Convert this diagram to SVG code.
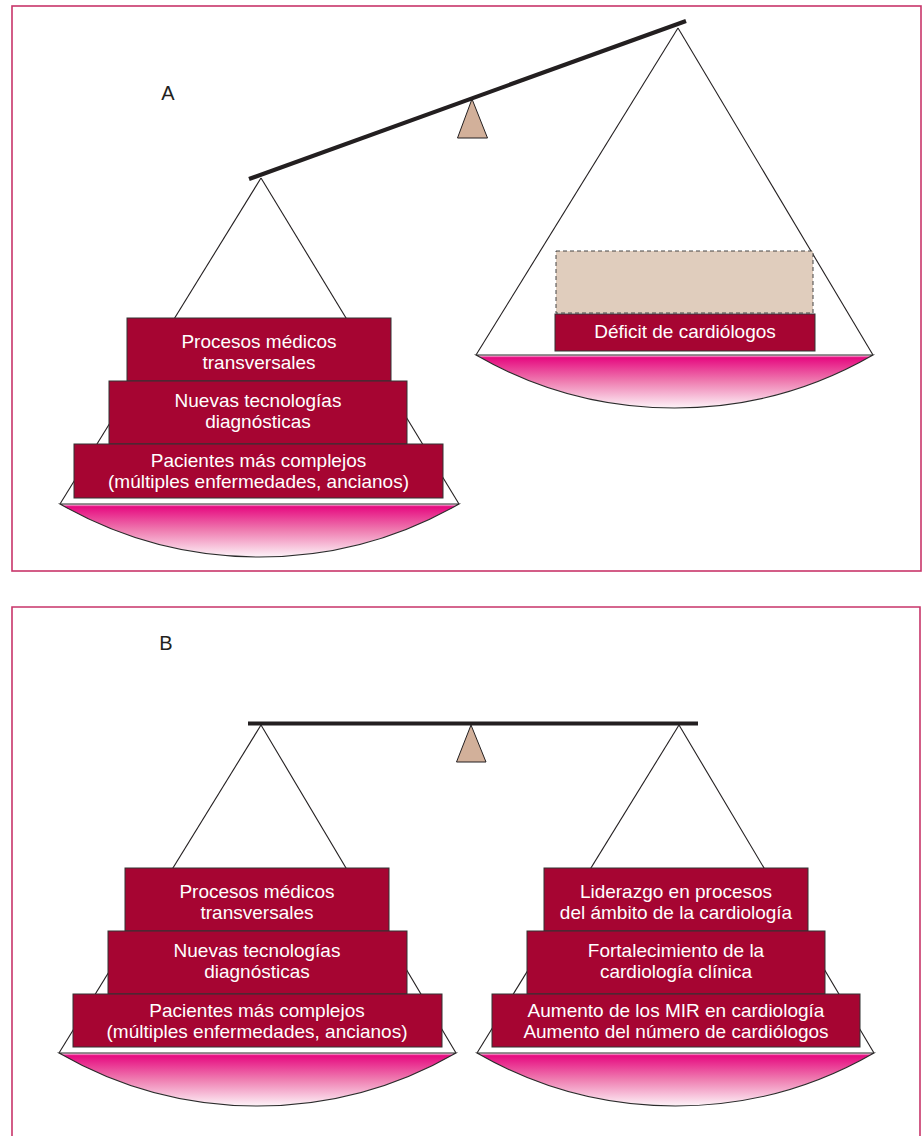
<svg xmlns="http://www.w3.org/2000/svg" width="923" height="1136" viewBox="0 0 923 1136">
<defs>
<linearGradient id="pan" x1="0" y1="0" x2="0" y2="1">
<stop offset="0" stop-color="#ffffff"/>
<stop offset="0.05" stop-color="#e60a80"/>
<stop offset="0.5" stop-color="#ef7db1"/>
<stop offset="1" stop-color="#fdf3f8"/>
</linearGradient>
<style>
.frame{fill:none;stroke:#c8356a;stroke-width:1.6}
.beam{stroke:#231f20;stroke-width:4.2;stroke-linecap:butt}
.hang{stroke:#231f20;stroke-width:1.1;fill:none}
.pan{fill:url(#pan);stroke:#2b2b2b;stroke-width:1.1}
.piv{fill:#d2b09a;stroke:#231f20;stroke-width:1}
.box{fill:#a60532;stroke:#333;stroke-width:1}
.ghost{fill:#e0cdbd;stroke:#444;stroke-width:1;stroke-dasharray:4 3}
.t{font-family:"Liberation Sans",Arial,sans-serif;font-size:19px;fill:#fff;text-anchor:middle}
.lbl{font-family:"Liberation Sans",Arial,sans-serif;font-size:20px;fill:#231f20;text-anchor:middle}
</style>
</defs>
<rect width="923" height="1136" fill="#fff"/>

<g id="panelA">
<rect class="frame" x="12" y="6" width="909" height="565"/>
<text class="lbl" x="168" y="100">A</text>
</g>
<g id="panelB">
<path class="frame" d="M12,1140 L12,607 L920,607 L920,1140"/>
<text class="lbl" x="166" y="650">B</text>
</g>

<g id="connectors">
<line class="hang" x1="261" y1="178" x2="60" y2="504"/>
<line class="hang" x1="261" y1="178" x2="459" y2="504"/>
<line class="hang" x1="678" y1="28" x2="476" y2="355"/>
<line class="hang" x1="678" y1="28" x2="873" y2="355"/>
<line class="hang" x1="261" y1="725" x2="59" y2="1053"/>
<line class="hang" x1="261" y1="725" x2="456" y2="1053"/>
<line class="hang" x1="679" y1="725" x2="477" y2="1053"/>
<line class="hang" x1="679" y1="725" x2="874" y2="1053"/>
</g>

<g id="scaleA">
<polygon class="piv" points="472,99 457.5,138 487.5,138"/>
<line class="beam" x1="249" y1="179" x2="686" y2="21"/>
<path class="pan" d="M60,504 L459,504 A402,402 0 0 1 60,504 Z"/>
<path class="pan" d="M476,355 L873,355 A398,398 0 0 1 476,355 Z"/>
</g>

<g id="scaleB">
<polygon class="piv" points="471,725 456.5,762 486,762"/>
<line class="beam" x1="248" y1="723.5" x2="698" y2="723.5"/>
<path class="pan" d="M59,1053 L456,1053 A398,398 0 0 1 59,1053 Z"/>
<path class="pan" d="M477,1053 L874,1053 A398,398 0 0 1 477,1053 Z"/>
</g>

<g id="A-procesos">
<rect class="box" x="127" y="318" width="264" height="63"/>
<text class="t" x="259" y="348">Procesos médicos</text>
<text class="t" x="259" y="369">transversales</text>
</g>
<g id="A-tecnologias">
<rect class="box" x="109" y="381" width="298" height="63"/>
<text class="t" x="258" y="407">Nuevas tecnologías</text>
<text class="t" x="258" y="428">diagnósticas</text>
</g>
<g id="A-pacientes">
<rect class="box" x="74" y="444" width="369" height="54"/>
<text class="t" x="258.5" y="466.5">Pacientes más complejos</text>
<text class="t" x="258.5" y="488">(múltiples enfermedades, ancianos)</text>
</g>
<g id="A-ghost">
<rect class="ghost" x="556" y="251" width="257" height="62"/>
</g>
<g id="A-deficit">
<rect class="box" x="555" y="314" width="260" height="37"/>
<text class="t" x="685" y="338">Déficit de cardiólogos</text>
</g>

<g id="B-procesos">
<rect class="box" x="125" y="868" width="264" height="63"/>
<text class="t" x="257" y="898">Procesos médicos</text>
<text class="t" x="257" y="919">transversales</text>
</g>
<g id="B-tecnologias">
<rect class="box" x="108" y="931" width="299" height="63"/>
<text class="t" x="257" y="957">Nuevas tecnologías</text>
<text class="t" x="257" y="978">diagnósticas</text>
</g>
<g id="B-pacientes">
<rect class="box" x="73" y="994" width="369" height="53"/>
<text class="t" x="257" y="1016.5">Pacientes más complejos</text>
<text class="t" x="257" y="1038">(múltiples enfermedades, ancianos)</text>
</g>
<g id="B-liderazgo">
<rect class="box" x="544" y="868" width="264" height="63"/>
<text class="t" x="676" y="898">Liderazgo en procesos</text>
<text class="t" x="676" y="919">del ámbito de la cardiología</text>
</g>
<g id="B-fortalecimiento">
<rect class="box" x="527" y="931" width="298" height="63"/>
<text class="t" x="676" y="957">Fortalecimiento de la</text>
<text class="t" x="676" y="978">cardiología clínica</text>
</g>
<g id="B-aumento">
<rect class="box" x="492" y="994" width="368" height="53"/>
<text class="t" x="676" y="1016.5">Aumento de los MIR en cardiología</text>
<text class="t" x="676" y="1037.5">Aumento del número de cardiólogos</text>
</g>
</svg>
